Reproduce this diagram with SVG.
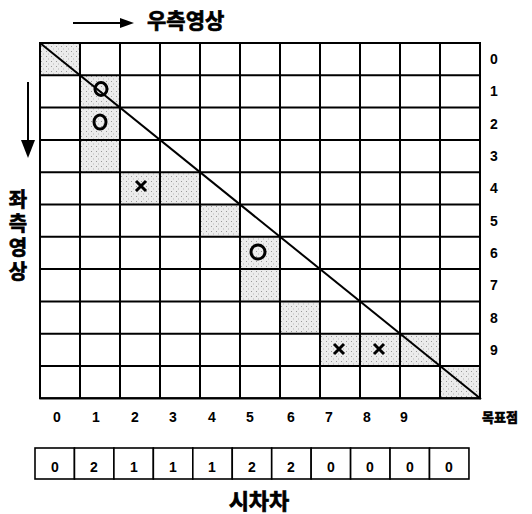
<svg xmlns="http://www.w3.org/2000/svg" width="532" height="514" viewBox="0 0 532 514">
<style>
.kr{font-family:"Noto Sans CJK KR","Noto Sans",sans-serif;font-weight:bold;fill:#000;stroke:#000;stroke-width:0.7}
.num{font-family:"Liberation Sans",Arial,sans-serif;font-weight:bold;font-size:14px;fill:#000;text-anchor:middle}
.grid{stroke:#000;stroke-width:2;fill:none}
.shade{fill:url(#dots)}
.mk{stroke:#000;stroke-width:3;fill:none}
.cell{fill:#fff;stroke:#000;stroke-width:1.6}
</style>
<defs>
<pattern id="dots" width="5" height="5" patternUnits="userSpaceOnUse">
<rect width="5" height="5" fill="#ececec"/>
<rect x="1" y="1" width="1" height="1" fill="#999"/>
<rect x="3" y="3.5" width="1" height="1" fill="#b5b5b5"/>
</pattern>
</defs>

<g id="shading">
<rect class="shade" x="40" y="43" width="40" height="32.3"/>
<rect class="shade" x="80" y="75.3" width="40" height="32.3"/>
<rect class="shade" x="80" y="107.6" width="40" height="32.3"/>
<rect class="shade" x="80" y="139.9" width="40" height="32.3"/>
<rect class="shade" x="120" y="172.2" width="40" height="32.3"/>
<rect class="shade" x="160" y="172.2" width="40" height="32.3"/>
<rect class="shade" x="200" y="204.5" width="40" height="32.3"/>
<rect class="shade" x="240" y="236.8" width="40" height="32.3"/>
<rect class="shade" x="240" y="269.1" width="40" height="32.3"/>
<rect class="shade" x="280" y="301.4" width="40" height="32.3"/>
<rect class="shade" x="320" y="333.7" width="40" height="32.3"/>
<rect class="shade" x="360" y="333.7" width="40" height="32.3"/>
<rect class="shade" x="400" y="333.7" width="40" height="32.3"/>
<rect class="shade" x="440" y="366" width="40" height="32.3"/>
</g>

<g id="grid">
<path class="grid" d="M40 43V398.3M80 43V398.3M120 43V398.3M160 43V398.3M200 43V398.3M240 43V398.3M280 43V398.3M320 43V398.3M360 43V398.3M400 43V398.3M440 43V398.3M480 43V398.3"/>
<path class="grid" d="M40 43H480M40 75.3H480M40 107.6H480M40 139.9H480M40 172.2H480M40 204.5H480M40 236.8H480M40 269.1H480M40 301.4H480M40 333.7H480M40 366H480M40 398.3H480"/>
<rect class="grid" x="40" y="43" width="440" height="355.3" stroke-width="2.5"/>
<line x1="40" y1="43" x2="481" y2="399" stroke="#000" stroke-width="2"/>
</g>

<g id="marks">
<ellipse class="mk" cx="101" cy="89" rx="6" ry="6.5"/>
<ellipse class="mk" cx="100" cy="122" rx="6" ry="7"/>
<ellipse class="mk" cx="258" cy="252" rx="7" ry="7"/>
<path class="mk" d="M136 181L146 191M146 181L136 191"/>
<path class="mk" d="M334 344L344 354M344 344L334 354"/>
<path class="mk" d="M374 344L384 354M384 344L374 354"/>
</g>

<g id="row-labels">
<text class="num" x="494" y="64">0</text>
<text class="num" x="494" y="96">1</text>
<text class="num" x="494" y="129">2</text>
<text class="num" x="494" y="161">3</text>
<text class="num" x="494" y="193">4</text>
<text class="num" x="494" y="226">5</text>
<text class="num" x="494" y="258">6</text>
<text class="num" x="494" y="290">7</text>
<text class="num" x="494" y="323">8</text>
<text class="num" x="494" y="355">9</text>
</g>

<g id="col-labels">
<text class="num" x="57" y="422">0</text>
<text class="num" x="96" y="422">1</text>
<text class="num" x="135" y="422">2</text>
<text class="num" x="173" y="422">3</text>
<text class="num" x="212" y="422">4</text>
<text class="num" x="250" y="422">5</text>
<text class="num" x="291" y="422">6</text>
<text class="num" x="329" y="422">7</text>
<text class="num" x="367" y="422">8</text>
<text class="num" x="404" y="422">9</text>
<text class="kr" x="482" y="422" font-size="13" stroke-width="0.5">목표점</text>
</g>

<g id="disparity">
<rect class="cell" x="35" y="448" width="39.45" height="31"/>
<rect class="cell" x="74.45" y="448" width="39.45" height="31"/>
<rect class="cell" x="113.9" y="448" width="39.45" height="31"/>
<rect class="cell" x="153.35" y="448" width="39.45" height="31"/>
<rect class="cell" x="192.8" y="448" width="39.45" height="31"/>
<rect class="cell" x="232.25" y="448" width="39.45" height="31"/>
<rect class="cell" x="271.7" y="448" width="39.45" height="31"/>
<rect class="cell" x="311.15" y="448" width="39.45" height="31"/>
<rect class="cell" x="350.6" y="448" width="39.45" height="31"/>
<rect class="cell" x="390.05" y="448" width="39.45" height="31"/>
<rect class="cell" x="429.5" y="448" width="39.45" height="31"/>
<text class="num" x="55" y="472">0</text>
<text class="num" x="94" y="472">2</text>
<text class="num" x="134" y="472">1</text>
<text class="num" x="173" y="472">1</text>
<text class="num" x="212" y="472">1</text>
<text class="num" x="252" y="472">2</text>
<text class="num" x="291" y="472">2</text>
<text class="num" x="331" y="472">0</text>
<text class="num" x="370" y="472">0</text>
<text class="num" x="410" y="472">0</text>
<text class="num" x="449" y="472">0</text>
<text class="kr" x="259" y="509" font-size="22" text-anchor="middle">시차차</text>
</g>

<g id="titles">
<text class="kr" x="147" y="28" font-size="21">우측영상</text>
<text class="kr" x="18" y="189" font-size="20" writing-mode="tb" letter-spacing="4">좌측영상</text>
</g>

<g id="connectors">
<line x1="73" y1="23" x2="121" y2="23" stroke="#000" stroke-width="2"/>
<polygon points="120,18 134,23 120,28" fill="#000"/>
<line x1="28" y1="82" x2="28" y2="142" stroke="#000" stroke-width="2"/>
<polygon points="21,140 35,140 28,158" fill="#000"/>
</g>
</svg>
